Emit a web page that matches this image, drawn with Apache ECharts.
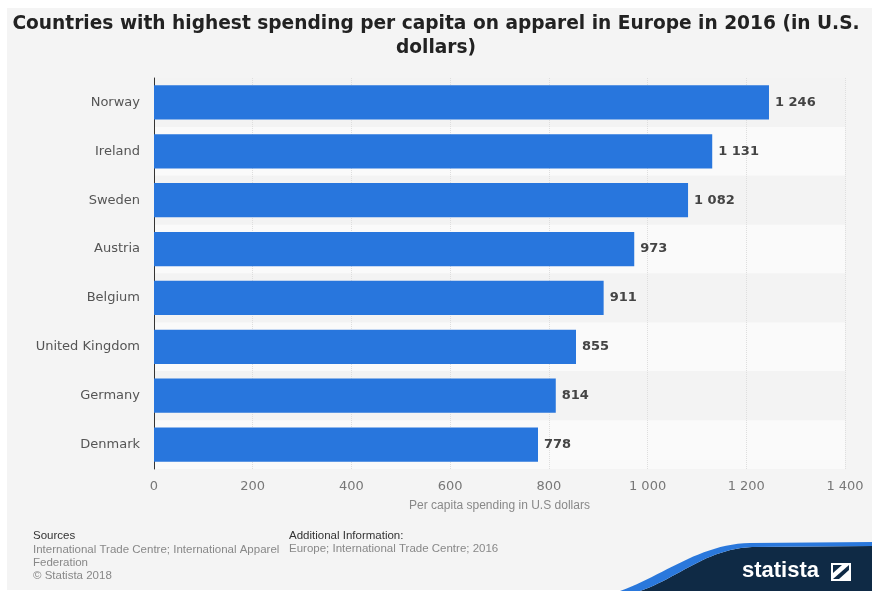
<!DOCTYPE html>
<html>
<head>
<meta charset="utf-8">
<script src="https://cdn.jsdelivr.net/npm/echarts@6/dist/echarts.min.js"></script>
<style>
  html, body { margin: 0; padding: 0; background: #ffffff; }
  #wrap { position: relative; width: 872px; height: 591px; overflow: hidden; }
  #panel { position: absolute; left: 7px; top: 8px; right: 0; bottom: 1px; background: #f4f4f4; }
  #chart { position: absolute; left: 0; top: 0; width: 872px; height: 591px; }
</style>
</head>
<body>
<div id="wrap">
  <div id="panel"></div>
  <div id="chart"></div>
</div>
<script>
// Per capita apparel spending, 2016 (U.S. dollars)
const countries = ['Norway', 'Ireland', 'Sweden', 'Austria', 'Belgium', 'United Kingdom', 'Germany', 'Denmark'];
const spending = [1246, 1131, 1082, 973, 911, 855, 814, 778];
const xTicks = { min: 0, max: 1400, interval: 200 };

const titleText = 'Countries with highest spending per capita on apparel in Europe in 2016 (in U.S.\ndollars)';
const axisTitle = 'Per capita spending in U.S dollars';

// thousands grouped with a space: 1246 -> "1 246"
function fmt(v) {
  return String(Math.round(v)).replace(/\B(?=(\d{3})+(?!\d))/g, ' ');
}

// sample a cubic Bezier into polygon vertices (for the brand corner swoosh)
function bez(p0, p1, p2, p3, n) {
  const pts = [];
  for (let i = 0; i <= n; i++) {
    const t = i / n, u = 1 - t;
    pts.push([
      u * u * u * p0[0] + 3 * u * u * t * p1[0] + 3 * u * t * t * p2[0] + t * t * t * p3[0],
      u * u * u * p0[1] + 3 * u * u * t * p1[1] + 3 * u * t * t * p2[1] + t * t * t * p3[1]
    ]);
  }
  return pts;
}

const innerCurve = bez([640, 591], [678, 578], [706, 549], [752, 547], 24);
const outerCurve = bez([620, 591], [664, 575], [700, 544], [750, 543], 24);
const navyPts = innerCurve.concat([[872, 546], [872, 591]]);
const bluePts = outerCurve.concat([[872, 542], [872, 546]]).concat(innerCurve.slice().reverse());

const footFont = '"Liberation Sans", Arial, sans-serif';
const labelFont = '"DejaVu Sans", sans-serif';
const chart = echarts.init(document.getElementById('chart'), null, { renderer: 'canvas' });

chart.setOption({
  backgroundColor: 'transparent',
  animation: false,
  title: {
    text: titleText,
    left: 'center',
    top: 7,
    textStyle: {
      fontFamily: labelFont,
      fontWeight: 'bold',
      fontSize: 18.6,
      lineHeight: 24,
      color: '#222222'
    }
  },
  grid: { left: 154, right: 27, top: 78, bottom: 122, containLabel: false },
  xAxis: {
    type: 'value',
    min: xTicks.min,
    max: xTicks.max,
    interval: xTicks.interval,
    name: axisTitle,
    nameLocation: 'middle',
    nameGap: 31,
    nameTextStyle: { fontFamily: footFont, fontSize: 12, color: '#888888' },
    axisLine: { show: false },
    axisTick: { show: false },
    axisLabel: {
      formatter: fmt,
      margin: 11,
      fontFamily: labelFont,
      fontSize: 13,
      color: '#777777'
    },
    splitLine: { show: true, lineStyle: { color: '#dedede', width: 1, type: 'dotted' } }
  },
  yAxis: {
    type: 'category',
    data: countries,
    inverse: true,
    axisLine: { show: true, lineStyle: { color: '#333333', width: 1 } },
    axisTick: { show: false },
    axisLabel: {
      margin: 14,
      fontFamily: labelFont,
      fontSize: 13,
      color: '#555555'
    },
    splitLine: { show: false },
    splitArea: { show: true, areaStyle: { color: ['#f3f3f3', '#fafafa'] } }
  },
  series: [{
    type: 'bar',
    data: spending,
    barWidth: '70%',
    itemStyle: { color: '#2876dd' },
    label: {
      show: true,
      position: 'right',
      distance: 6,
      formatter: p => fmt(p.value),
      fontFamily: labelFont,
      fontWeight: 'bold',
      fontSize: 13,
      color: '#444444'
    }
  }],
  graphic: [
    { type: 'text', x: 33, y: 530, style: { text: 'Sources', font: '11.5px ' + footFont, fill: '#333333' } },
    { type: 'text', x: 33, y: 543, style: { text: 'International Trade Centre; International Apparel\nFederation\n\u00A9 Statista 2018', font: '11.5px ' + footFont, fill: '#888888', lineHeight: 13 } },
    { type: 'text', x: 289, y: 530, style: { text: 'Additional Information:', font: '11.5px ' + footFont, fill: '#333333' } },
    { type: 'text', x: 289, y: 543, style: { text: 'Europe; International Trade Centre; 2016', font: '11.5px ' + footFont, fill: '#888888' } },
    // brand corner
    { type: 'polygon', shape: { points: navyPts }, style: { fill: '#0f2a45' } },
    { type: 'polygon', shape: { points: bluePts }, style: { fill: '#2a78dc' } },
    { type: 'text', x: 742, y: 560, style: { text: 'statista', font: 'bold 22px "Liberation Sans", sans-serif', fill: '#ffffff' } },
    { type: 'rect', shape: { x: 831, y: 563, width: 20, height: 18 }, style: { fill: '#ffffff' } },
    { type: 'polygon', shape: { points: [[833, 579], [849, 565], [849, 570], [839, 579]] }, style: { fill: '#0f2a45' } },
    { type: 'polygon', shape: { points: [[833, 565], [842, 565], [833, 573]] }, style: { fill: '#0f2a45' } }
  ]
});
</script>
</body>
</html>
